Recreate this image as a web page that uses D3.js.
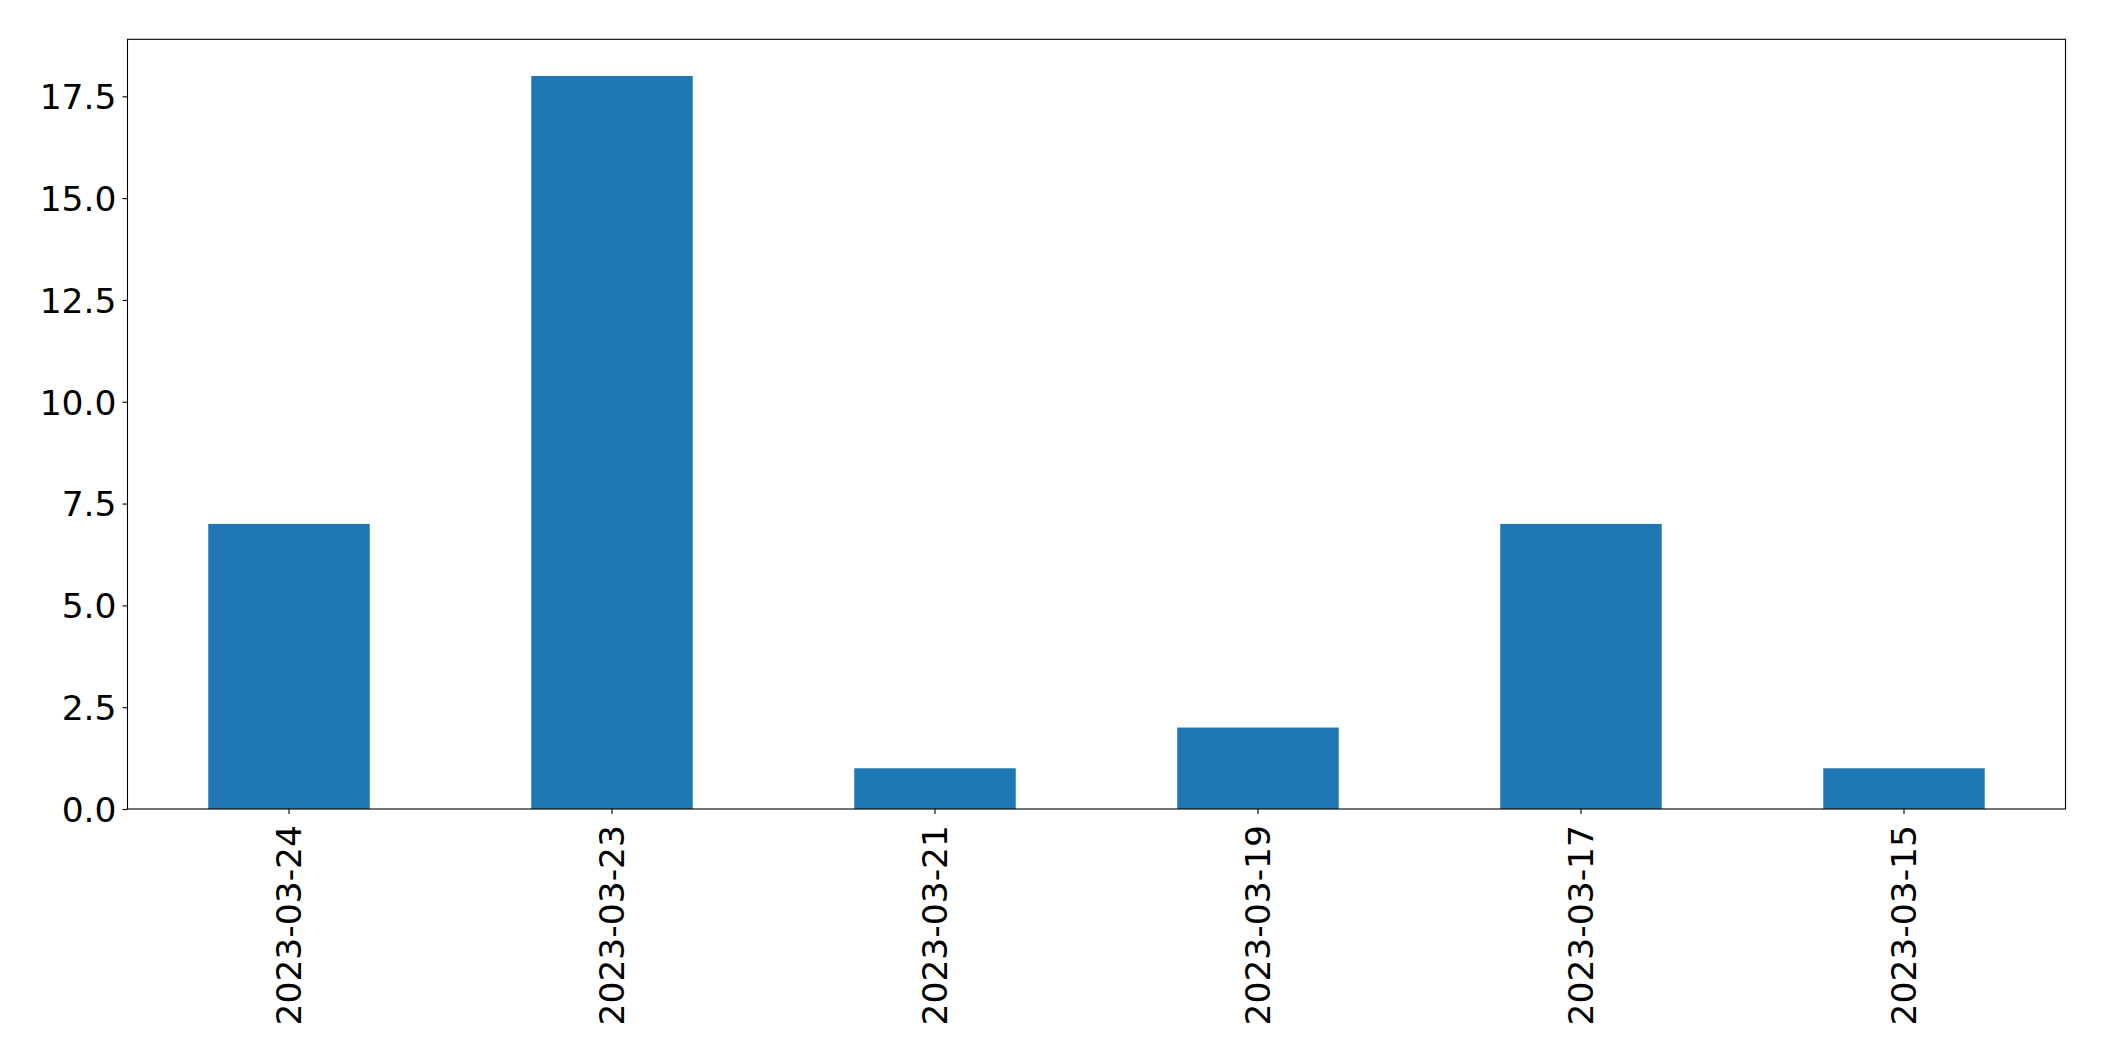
<!DOCTYPE html>
<html>
<head>
<meta charset="utf-8">
<script src="https://cdn.jsdelivr.net/npm/d3@7"></script>
<style>
  html, body { margin: 0; padding: 0; background: #fff; }
  svg { display: block; }
  text { font-family: "DejaVu Sans", sans-serif; fill: #000; }
</style>
</head>
<body>
<svg id="chart" width="2104" height="1061"></svg>
<script>
const categories = ["2023-03-24", "2023-03-23", "2023-03-21", "2023-03-19", "2023-03-17", "2023-03-15"];
const values = [7, 18, 1, 2, 7, 1];
const yTicks = [0, 2.5, 5, 7.5, 10, 12.5, 15, 17.5];

const W = 2104, H = 1061;
const margin = { left: 127.5, right: W - 2065.5, top: 39.3, bottom: H - 809 };
const iw = W - margin.left - margin.right;
const ih = H - margin.top - margin.bottom;

const svg = d3.select("#chart");
const g = svg.append("g").attr("transform", `translate(${margin.left},${margin.top})`);

const x = d3.scaleBand().domain(categories).range([0, iw]).paddingInner(0.5).paddingOuter(0.25);
const yMax = d3.max(values) * 1.05;
const y = d3.scaleLinear().domain([0, yMax]).range([ih, 0]);

g.selectAll("rect.bar").data(categories).enter().append("rect")
  .attr("class", "bar")
  .attr("x", d => x(d))
  .attr("width", x.bandwidth())
  .attr("y", (d, i) => y(values[i]))
  .attr("height", (d, i) => y(0) - y(values[i]))
  .attr("fill", "#1f77b4");

const fs = 34.5;

// y axis
const yAxis = d3.axisLeft(y).tickValues(yTicks).tickFormat(d3.format(".1f")).tickSize(5).tickPadding(6);
const ya = g.append("g").call(yAxis);
ya.select(".domain").remove();
ya.selectAll("line").attr("stroke", "#000").attr("stroke-width", 1.1);
ya.selectAll("text").attr("font-size", fs).attr("dy", "0.36em");

// x axis
const xAxis = d3.axisBottom(x).tickSize(5).tickPadding(0);
const xa = g.append("g").attr("transform", `translate(0,${ih})`).call(xAxis);
xa.select(".domain").remove();
xa.selectAll("line").attr("stroke", "#000").attr("stroke-width", 1.1);
xa.selectAll("text")
  .attr("font-size", fs)
  .attr("text-anchor", "end")
  .attr("x", 0).attr("y", 0)
  .attr("dy", "0.36em")
  .attr("transform", "translate(0,16) rotate(-90)");

// frame
g.append("rect")
  .attr("x", 0).attr("y", 0).attr("width", iw).attr("height", ih)
  .attr("fill", "none").attr("stroke", "#000").attr("stroke-width", 1.1);
</script>
</body>
</html>
